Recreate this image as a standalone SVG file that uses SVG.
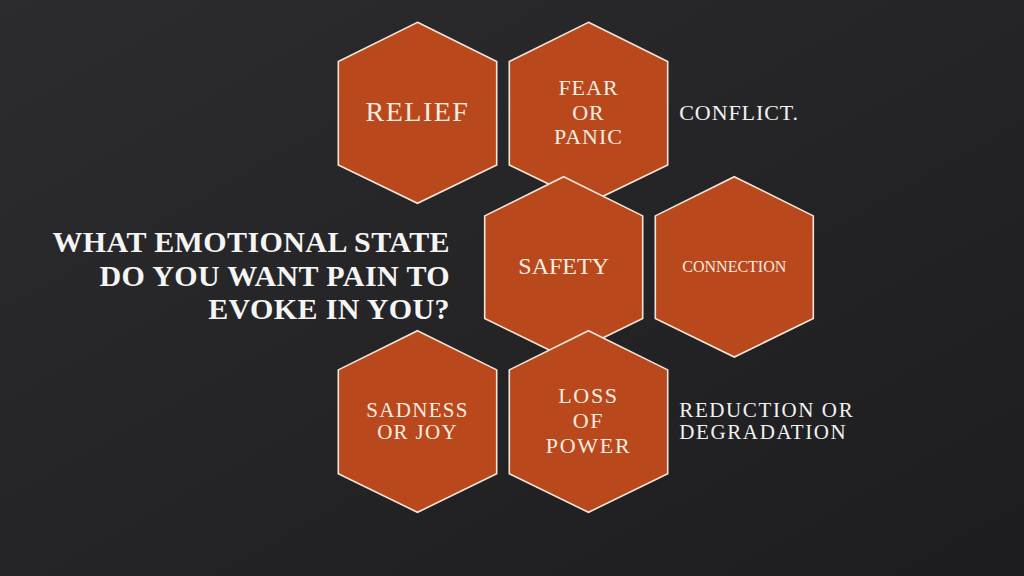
<svg xmlns="http://www.w3.org/2000/svg" width="1024" height="576" viewBox="0 0 1024 576">
<defs>
<linearGradient id="bg" x1="0" y1="0" x2="1" y2="1">
<stop offset="0" stop-color="#2c2c2e"/>
<stop offset="1" stop-color="#1d1d1f"/>
</linearGradient>
<style>
.hex{fill:#BA481D;stroke:#F4E7D9;stroke-width:1.6;stroke-linejoin:miter}
.t{font-family:"Liberation Serif","Times New Roman",serif;fill:#F7ECE0;text-anchor:middle}
.side{font-family:"Liberation Serif","Times New Roman",serif;fill:#F2F2F2}
.title{font-family:"Liberation Serif","Times New Roman",serif;font-weight:bold;font-size:30px;fill:#F5F5F5;text-anchor:end;letter-spacing:0.4px}
</style>
</defs>
<rect width="1024" height="576" fill="url(#bg)"/>
<g id="title">
<text class="title" x="450" y="252">WHAT EMOTIONAL STATE</text>
<text class="title" x="450" y="285.5">DO YOU WANT PAIN TO</text>
<text class="title" x="450" y="319">EVOKE IN YOU?</text>
</g>
<g id="relief">
<polygon class="hex" points="417.5,22.3 496.7,61.5 496.7,165 417.5,203.3 338.3,165 338.3,61.5"/>
<text class="t" x="417.5" y="121" font-size="28" letter-spacing="1.5">RELIEF</text>
</g>
<g id="fear">
<polygon class="hex" points="588.5,22.3 667.7,61.5 667.7,165 588.5,203.3 509.3,165 509.3,61.5"/>
<text class="t" x="588.5" y="95" font-size="22" letter-spacing="1">FEAR</text>
<text class="t" x="588.5" y="120" font-size="22" letter-spacing="1">OR</text>
<text class="t" x="588.5" y="144.3" font-size="22" letter-spacing="1">PANIC</text>
</g>
<g id="safety">
<polygon class="hex" points="563.7,176.7 642.7,215.9 642.7,318.5 563.7,357 484.7,318.5 484.7,215.9"/>
<text class="t" x="563.7" y="274" font-size="24">SAFETY</text>
</g>
<g id="connection">
<polygon class="hex" points="734.3,176.7 813.3,215.9 813.3,318.5 734.3,357 655.3,318.5 655.3,215.9"/>
<text class="t" x="734.3" y="271.7" font-size="16">CONNECTION</text>
</g>
<g id="sadness">
<polygon class="hex" points="417.5,330.7 496.7,369.9 496.7,473.8 417.5,512.3 338.3,473.8 338.3,369.9"/>
<text class="t" x="417.5" y="416.7" font-size="21" letter-spacing="1.3">SADNESS</text>
<text class="t" x="417.5" y="439" font-size="21" letter-spacing="1.3">OR JOY</text>
</g>
<g id="loss">
<polygon class="hex" points="588.5,330.7 667.7,369.9 667.7,473.8 588.5,512.3 509.3,473.8 509.3,369.9"/>
<text class="t" x="588.5" y="403.3" font-size="22" letter-spacing="1.7">LOSS</text>
<text class="t" x="588.5" y="428.3" font-size="22" letter-spacing="1.7">OF</text>
<text class="t" x="588.5" y="452.7" font-size="22" letter-spacing="1.7">POWER</text>
</g>
<g id="conflict">
<text class="side" x="679.3" y="120" font-size="22" letter-spacing="0.9">CONFLICT.</text>
</g>
<g id="reduction">
<text class="side" x="679.3" y="416.7" font-size="21" letter-spacing="1.6">REDUCTION OR</text>
<text class="side" x="679.3" y="439.3" font-size="21" letter-spacing="1.6">DEGRADATION</text>
</g>
<g id="connectors"></g>
</svg>
